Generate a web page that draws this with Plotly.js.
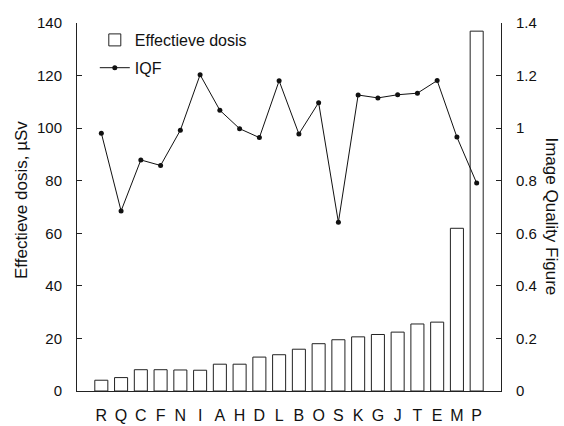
<!DOCTYPE html>
<html>
<head>
<meta charset="utf-8">
<script src="https://cdn.plot.ly/plotly-3.0.1.min.js"></script>
<style>
  html, body { margin: 0; padding: 0; background: #fff; }
  #chart { width: 564px; height: 426px; }
</style>
</head>
<body>
<div id="chart"></div>
<script>
// Hospitals, ordered by effective dose
const hospitals = ['R','Q','C','F','N','I','A','H','D','L','B','O','S','K','G','J','T','E','M','P'];

// Effective dose per hospital (µSv)
const effectiveDose = [4.1, 5.1, 8.1, 8.1, 8.0, 7.9, 10.2, 10.2, 12.9, 13.8, 15.9,
                       18.0, 19.5, 20.6, 21.5, 22.4, 25.5, 26.2, 61.9, 136.9];

// Image Quality Figure per hospital
const iqf = [0.981, 0.685, 0.879, 0.858, 0.992, 1.203, 1.068, 0.998, 0.964, 1.180, 0.978,
             1.097, 0.642, 1.126, 1.115, 1.127, 1.133, 1.181, 0.966, 0.791];

const leftTicks = [0, 20, 40, 60, 80, 100, 120, 140];
const rightTicks = [0, 0.2, 0.4, 0.6, 0.8, 1, 1.2, 1.4];

const FONT = 'Liberation Sans, Arial, sans-serif';

const traces = [
  {
    type: 'bar',
    name: 'Effectieve dosis',
    x: hospitals,
    y: effectiveDose,
    marker: { color: '#ffffff', line: { color: '#222222', width: 1 } },
    legendgroup: 'a',
    yaxis: 'y'
  },
  {
    type: 'scatter',
    mode: 'lines+markers',
    name: 'IQF',
    x: hospitals,
    y: iqf,
    line: { color: '#111111', width: 1 },
    marker: { color: '#111111', size: 5 },
    legendgroup: 'b',
    yaxis: 'y2'
  }
];

const layout = {
  width: 564,
  height: 426,
  margin: { l: 77, r: 63, t: 23, b: 35 },
  paper_bgcolor: '#ffffff',
  plot_bgcolor: '#ffffff',
  font: { family: FONT, size: 15, color: '#111111' },
  bargap: 0.34,
  showlegend: true,
  legend: {
    x: 0.042, y: 1.0, xanchor: 'left', yanchor: 'top',
    bgcolor: 'rgba(0,0,0,0)',
    font: { family: FONT, size: 16, color: '#111111' },
    traceorder: 'grouped',
    tracegroupgap: 4,
    itemwidth: 30
  },
  xaxis: {
    type: 'category',
    showline: true, linecolor: '#222222', linewidth: 1,
    ticks: '', showgrid: false, zeroline: false,
    tickfont: { family: FONT, size: 16 },
    ticklabelstandoff: 10
  },
  yaxis: {
    range: [0, 140],
    tickvals: leftTicks,
    ticktext: leftTicks.map(String),
    showline: true, linecolor: '#222222', linewidth: 1,
    ticks: 'inside', ticklen: 5, tickcolor: '#222222',
    showgrid: false, zeroline: false,
    tickfont: { family: FONT, size: 15 },
    ticklabelstandoff: 11
  },
  yaxis2: {
    overlaying: 'y',
    side: 'right',
    range: [0, 1.4],
    tickvals: rightTicks,
    ticktext: rightTicks.map(String),
    showline: true, linecolor: '#222222', linewidth: 1,
    ticks: 'inside', ticklen: 5, tickcolor: '#222222',
    showgrid: false, zeroline: false,
    tickfont: { family: FONT, size: 15 },
    ticklabelstandoff: 11
  },
  annotations: [
    {
      text: 'Effectieve dosis, µSv',
      xref: 'paper', yref: 'paper',
      x: -0.132, y: 0.519, xanchor: 'center', yanchor: 'middle',
      textangle: -90, showarrow: false,
      font: { family: FONT, size: 17, color: '#111111' }
    },
    {
      text: 'Image Quality Figure',
      xref: 'paper', yref: 'paper',
      x: 1.119, y: 0.473, xanchor: 'center', yanchor: 'middle',
      textangle: 90, showarrow: false,
      font: { family: FONT, size: 17, color: '#111111' }
    }
  ]
};

Plotly.newPlot('chart', traces, layout, { staticPlot: true, displayModeBar: false });
</script>
</body>
</html>
